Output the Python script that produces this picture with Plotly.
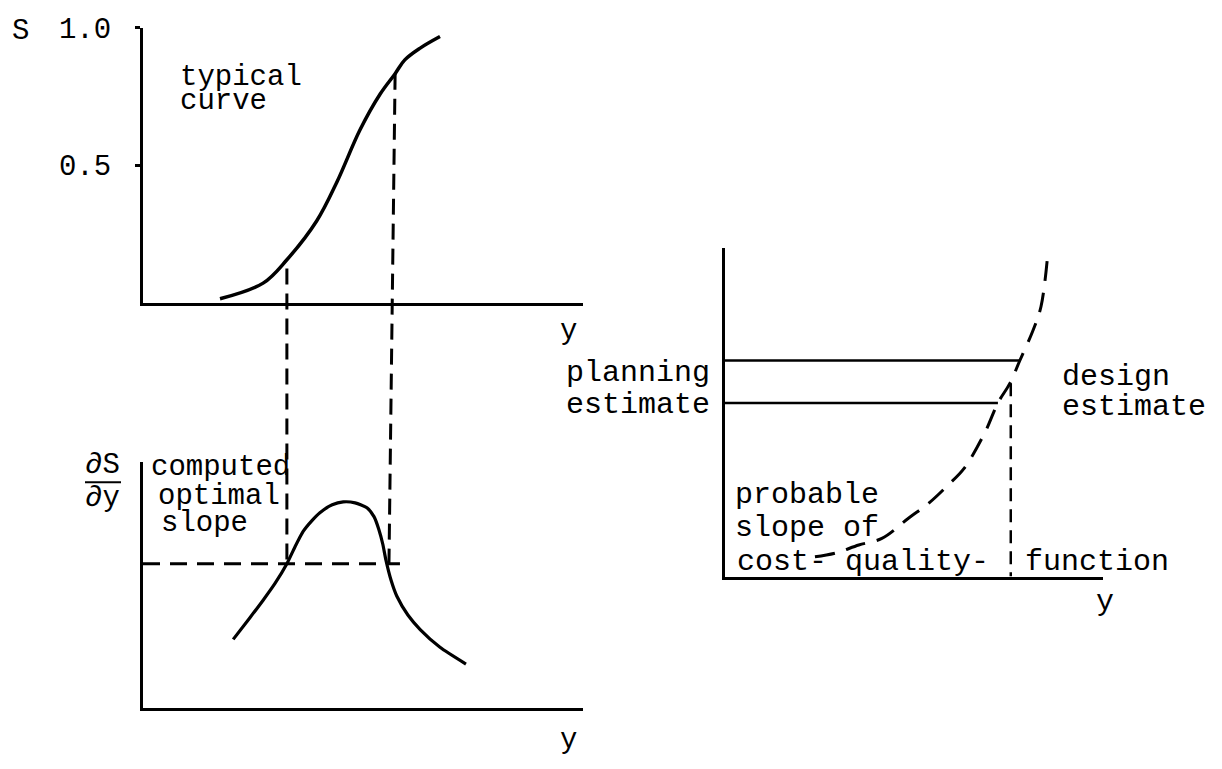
import plotly.graph_objects as go

W, H = 1222, 769
FONT = "Liberation Mono, Courier New, monospace"

# ---------------- data ----------------
# top-left panel: typical curve S(y)
sig_y = [1.75, 2.73, 3.27, 3.95, 4.41, 4.93, 5.39, 5.73, 5.95, 6.30, 6.75]
sig_s = [0.014, 0.071, 0.156, 0.298, 0.44, 0.628, 0.759, 0.833, 0.883, 0.926, 0.968]
s_ticks = [0.5, 1.0]
s_ticklabels = ["0.5", "1.0"]

# bottom-left panel: dS/dy
bell_y = [2.05, 2.43, 2.73, 3.00, 3.27, 3.45, 3.64, 3.84, 4.02, 4.30, 4.55, 4.82,
          5.09, 5.25, 5.36, 5.45, 5.52, 5.64, 5.77, 6.02, 6.30, 6.75, 7.34]
bell_d = [0.279, 0.367, 0.438, 0.506, 0.586, 0.653, 0.717, 0.761, 0.793, 0.825, 0.837, 0.833,
          0.813, 0.777, 0.725, 0.665, 0.602, 0.518, 0.454, 0.378, 0.319, 0.247, 0.179]
opt_slope = 0.586
opt_slope_y = [0.0, 5.84]

# connectors between the panels (y positions, top S value)
conn_y_top = [3.27, 5.73]
conn_y_bot = [3.27, 5.59]
conn_s_top = [0.124, 0.833]

# right panel: probable cost-quality function
cost_y = [2.38, 2.94, 3.54, 4.15, 4.87, 5.40, 5.90, 6.32, 6.88, 7.22, 7.54, 7.80, 8.15, 8.36, 8.54]
cost_c = [0.060, 0.072, 0.096, 0.116, 0.179, 0.224, 0.278, 0.328, 0.439, 0.528, 0.588, 0.657, 0.749, 0.821, 0.982]
planning_c, planning_end = 0.657, 7.80
design_c, design_end = 0.528, 7.22
design_y, design_top = 7.56, 0.588

# ---------------- layout helpers ----------------
def xdom(p0, p1):
    return [p0 / W, p1 / W]

def ydom(top, bottom):
    return [1 - bottom / H, 1 - top / H]

domA_x, domA_y = xdom(143, 583), ydom(14, 294)
domB_x, domB_y = xdom(143, 583), ydom(456, 707)
domC_x, domC_y = xdom(725, 1103), ydom(238, 573)

def to_paper(dom, v):
    return dom[0] + v * (dom[1] - dom[0])

fig = go.Figure()
BLK = "black"

fig.add_trace(go.Scatter(x=sig_y, y=sig_s, mode="lines", line=dict(color=BLK, width=3.5, shape="spline"),
                         xaxis="x", yaxis="y", hoverinfo="skip"))
fig.add_trace(go.Scatter(x=bell_y, y=bell_d, mode="lines",
                         line=dict(color=BLK, width=3.2, shape="spline", smoothing=0.6),
                         xaxis="x2", yaxis="y2", hoverinfo="skip"))
fig.add_trace(go.Scatter(x=opt_slope_y, y=[opt_slope, opt_slope], mode="lines",
                         line=dict(color=BLK, width=3, dash="17px,10px"),
                         xaxis="x2", yaxis="y2", hoverinfo="skip"))
fig.add_trace(go.Scatter(x=cost_y, y=cost_c, mode="lines",
                         line=dict(color=BLK, width=3, shape="spline", dash="20px,12px"),
                         xaxis="x3", yaxis="y3", hoverinfo="skip"))
fig.add_trace(go.Scatter(x=[0, planning_end], y=[planning_c, planning_c], mode="lines",
                         line=dict(color=BLK, width=2.5), xaxis="x3", yaxis="y3", hoverinfo="skip"))
fig.add_trace(go.Scatter(x=[0, design_end], y=[design_c, design_c], mode="lines",
                         line=dict(color=BLK, width=2.5), xaxis="x3", yaxis="y3", hoverinfo="skip"))
fig.add_trace(go.Scatter(x=[design_y, design_y], y=[design_top, 0], mode="lines",
                         line=dict(color=BLK, width=2.5, dash="13px,8px"), xaxis="x3", yaxis="y3", hoverinfo="skip"))

shapes = []
for xt, xb, st in zip(conn_y_top, conn_y_bot, conn_s_top):
    shapes.append(dict(type="line", xref="x", yref="paper", x0=xt, x1=xb,
                       y0=to_paper(domA_y, st), y1=to_paper(domB_y, opt_slope),
                       line=dict(color=BLK, width=3, dash="16px,9px")))
# fraction bar of dS/dy label
shapes.append(dict(type="line", xref="paper", yref="paper", x0=85 / W, x1=121 / W,
                   y0=1 - 477 / H, y1=1 - 477 / H, line=dict(color=BLK, width=2)))

annotations = []
def ann(text, xp, yp, xanchor="left", size=29):
    annotations.append(dict(text=text, x=xp / W, y=1 - yp / H, xref="paper", yref="paper",
                            xanchor=xanchor, yanchor="middle", showarrow=False,
                            font=dict(family=FONT, size=size, color=BLK)))

ann("S", 20, 18, "center")
ann("typical", 178, 65)
ann("curve", 178, 89)
ann("y", 568, 323, "center")
ann("∂S", 102, 460, "center")
ann("∂y", 102, 493, "center")
ann("computed", 149, 462)
ann("optimal", 156, 491)
ann("slope", 159, 519)
ann("y", 568, 740, "center")
ann("planning", 712, 366, "right", 30)
ann("estimate", 712, 398, "right", 30)
ann("design", 1060, 370, "left", 30)
ann("estimate", 1060, 400, "left", 30)
ann("probable", 733, 490, "left", 30)
ann("slope of", 733, 524, "left", 30)
ann("cost- quality-\u00a0\u00a0function", 735, 558, "left", 30)
ann("y", 1105, 599, "center", 30)

axis_common = dict(showline=True, linewidth=3, linecolor=BLK, showgrid=False, zeroline=False,
                   ticks="", showticklabels=False, fixedrange=True)

fig.update_layout(
    width=W, height=H, margin=dict(l=0, r=0, t=0, b=0), autosize=False,
    paper_bgcolor="white", plot_bgcolor="rgba(0,0,0,0)", showlegend=False,
    xaxis=dict(domain=domA_x, range=[0, 10], anchor="y", **axis_common),
    yaxis=dict(domain=domA_y, range=[0, 1], anchor="x",
               **{**axis_common, "ticks": "outside", "showticklabels": True},
               tickvals=s_ticks, ticktext=s_ticklabels, ticklen=5, tickwidth=3, tickcolor=BLK,
               ticklabelstandoff=18, ticklabeloverflow="allow",
               tickfont=dict(family=FONT, size=29, color=BLK)),
    xaxis2=dict(domain=domB_x, range=[0, 10], anchor="y2", **axis_common),
    yaxis2=dict(domain=domB_y, range=[0, 1], anchor="x2", **axis_common),
    xaxis3=dict(domain=domC_x, range=[0, 10], anchor="y3", **axis_common),
    yaxis3=dict(domain=domC_y, range=[0, 1], anchor="x3", **axis_common),
    shapes=shapes, annotations=annotations,
)

fig.write_html("out.html", config={"displayModeBar": False},
               post_script="document.body.style.margin='0';document.body.style.overflow='hidden';")
